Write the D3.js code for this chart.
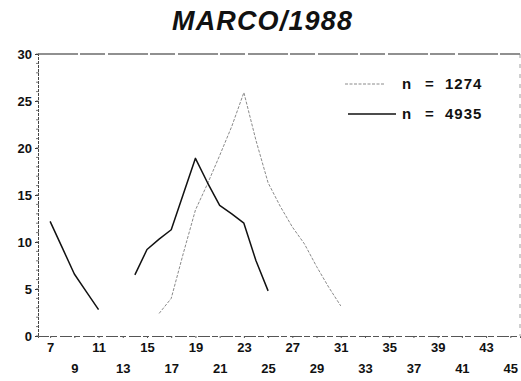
<!DOCTYPE html>
<html>
<head>
<meta charset="utf-8">
<script src="https://cdn.jsdelivr.net/npm/d3@7/dist/d3.min.js"></script>
<style>
  html, body { margin: 0; padding: 0; background: #fff; }
  svg { display: block; }
  text { font-family: "Liberation Sans", Arial, sans-serif; fill: #111; }
</style>
</head>
<body>
<svg id="chart" width="521" height="381"></svg>
<script>
// Day of month on the x axis, percentage on the y axis
const daysA   = [16, 17, 18, 19, 20, 21, 22, 23, 24, 25, 26, 27, 28, 29, 30, 31];
const valuesA = [2.4, 4.0, 8.8, 13.4, 16.2, 19.2, 22.3, 25.9, 20.8, 16.3, 13.8, 11.6, 9.8, 7.4, 5.2, 3.2];

const daysB   = [7, 8, 9, 10, 11, 12, 13, 14, 15, 16, 17, 18, 19, 20, 21, 22, 23, 24, 25];
const valuesB = [12.2, 9.4, 6.6, 4.7, 2.8, null, null, 6.5, 9.2, 10.3, 11.3, 15.1, 18.9, 16.3, 13.9, 13.0, 12.0, 8.0, 4.8];

const xTickValues = [7, 9, 11, 13, 15, 17, 19, 21, 23, 25, 27, 29, 31, 33, 35, 37, 39, 41, 43, 45];
const yTickValues = [0, 5, 10, 15, 20, 25, 30];
const legendCounts = ["1274", "4935"];
const titleText = "MARCO/1988";

const svg = d3.select("#chart");

const x = d3.scaleLinear().domain([6, 45.8]).range([38, 520]);
const y = d3.scaleLinear().domain([0, 30]).range([336, 54]);

// Title
svg.append("text")
  .attr("x", 262).attr("y", 30)
  .attr("text-anchor", "middle")
  .style("font-size", "27px")
  .style("font-style", "italic")
  .style("font-weight", "bold")
  .attr("textLength", 180)
  .attr("lengthAdjust", "spacing")
  .text(titleText);

// Frame: top and right edges
svg.append("line")
  .attr("x1", x(6)).attr("x2", x(45.8))
  .attr("y1", y(30)).attr("y2", y(30))
  .attr("stroke", "#222").attr("stroke-width", 1.1)
  .attr("stroke-dasharray", "40,2,25,3");
svg.append("line")
  .attr("x1", x(45.8)).attr("x2", x(45.8))
  .attr("y1", y(30)).attr("y2", y(0))
  .attr("stroke", "#888").attr("stroke-width", 0.8)
  .attr("stroke-dasharray", "4,6");

// Left axis with minor ticks every unit
const yAxis = d3.axisLeft(y)
  .tickValues(yTickValues)
  .tickSize(3)
  .tickPadding(3);
const gy = svg.append("g").attr("transform", `translate(${x(6)},0)`).call(yAxis);
gy.select(".domain").attr("stroke", "#444").attr("stroke-dasharray", "3,1");
gy.selectAll(".tick line").attr("stroke", "#333");
gy.selectAll(".tick text")
  .style("font-size", "13px").style("font-weight", "bold")
  .attr("font-family", null).attr("fill", "#111");
gy.selectAll(".minor")
  .data(d3.range(0, 31))
  .join("line")
  .attr("class", "minor")
  .attr("x1", -2).attr("x2", 1)
  .attr("y1", d => y(d)).attr("y2", d => y(d))
  .attr("stroke", "#555").attr("stroke-width", 0.8);

// Bottom axis, labels staggered on two rows
const xAxis = d3.axisBottom(x)
  .tickValues(xTickValues)
  .tickSize(2)
  .tickPadding(4);
const gx = svg.append("g").attr("transform", `translate(0,${y(0)})`).call(xAxis);
gx.select(".domain").attr("stroke", "#555").attr("stroke-dasharray", "12,2,6,3");
gx.selectAll(".tick line").attr("stroke", "#555");
gx.selectAll(".tick text")
  .style("font-size", "13px").style("font-weight", "bold")
  .attr("font-family", null).attr("fill", "#111")
  .attr("y", (d, i) => i % 2 === 0 ? 7 : 28);

// Series lines
const line = d3.line()
  .defined(d => d[1] !== null)
  .x(d => x(d[0]))
  .y(d => y(d[1]));

const seriesA = daysA.map((d, i) => [d, valuesA[i]]);
const seriesB = daysB.map((d, i) => [d, valuesB[i]]);

const styleA = { stroke: "#8a8a8a", width: 1, dash: "3,1.5" };
const styleB = { stroke: "#111", width: 1.5, dash: null };

svg.append("path")
  .datum(seriesA)
  .attr("d", line)
  .attr("fill", "none")
  .attr("stroke", styleA.stroke)
  .attr("stroke-width", styleA.width)
  .attr("stroke-dasharray", styleA.dash);

svg.append("path")
  .datum(seriesB)
  .attr("d", line)
  .attr("fill", "none")
  .attr("stroke", styleB.stroke)
  .attr("stroke-width", styleB.width)
  .attr("stroke-linejoin", "round");

// Legend: sample line, then "n = count"
const legend = [
  { count: legendCounts[0], style: styleA, x1: 345, x2: 385, yy: 84 },
  { count: legendCounts[1], style: styleB, x1: 348, x2: 396, yy: 114 }
];
const lg = svg.append("g").style("font-size", "15px").style("font-weight", "bold");
legend.forEach(l => {
  lg.append("line")
    .attr("x1", l.x1).attr("x2", l.x2)
    .attr("y1", l.yy).attr("y2", l.yy)
    .attr("stroke", l.style.stroke)
    .attr("stroke-width", l.style.width)
    .attr("stroke-dasharray", l.style.dash);
  lg.append("text").attr("x", 402).attr("y", l.yy + 5).text("n");
  lg.append("text").attr("x", 425).attr("y", l.yy + 5).text("=");
  lg.append("text").attr("x", 445).attr("y", l.yy + 5)
    .style("letter-spacing", "1px")
    .text(l.count);
});
</script>
</body>
</html>
